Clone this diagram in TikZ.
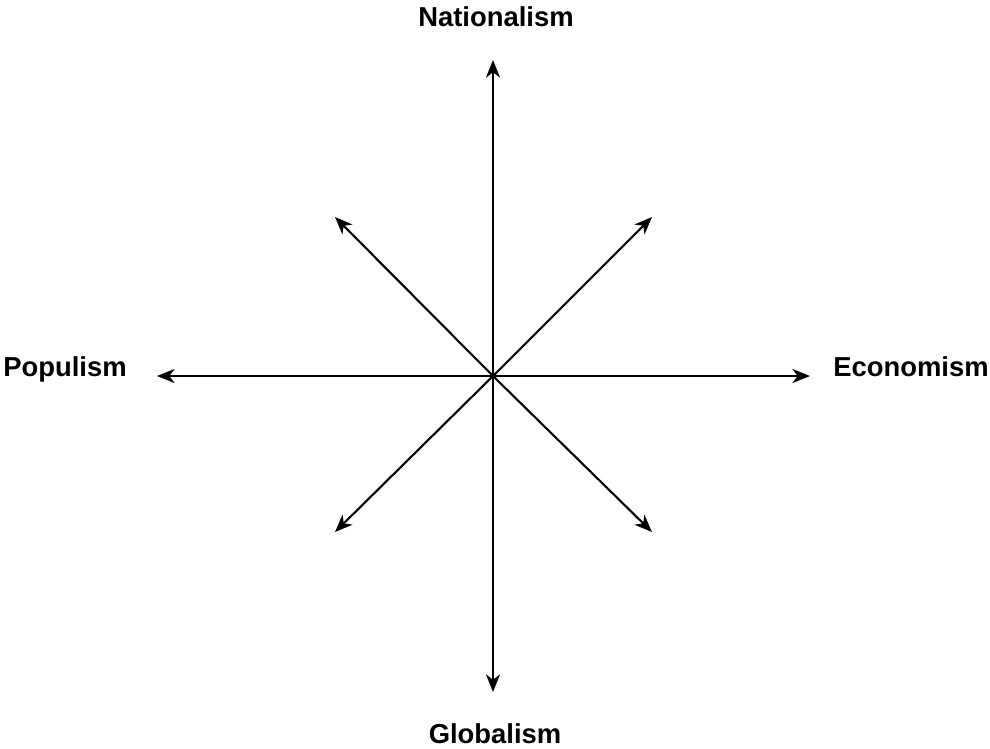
\documentclass[tikz,border=0pt]{standalone}
\usepackage{fontspec}
\setmainfont{Liberation Sans}
\usetikzlibrary{arrows.meta}
\begin{document}
\begin{tikzpicture}[x=0.02cm,y=-0.02cm,
  axis/.style={line width=1.2pt,-{Stealth[length=10pt,width=8pt,inset=3pt]}},
  pole/.style={anchor=base,font=\fontsize{15.6}{18}\selectfont\bfseries}]
  \useasboundingbox (0,0) rectangle (990,748);
  \coordinate (o) at (493,376);
  % axis ends
  \coordinate (n) at (493,60);
  \coordinate (s) at (493,692);
  \coordinate (w) at (157,376);
  \coordinate (e) at (810,376);
  \coordinate (ne) at (652,217);
  \coordinate (nw) at (335,217);
  \coordinate (sw) at (335,532);
  \coordinate (se) at (652,532);
  \foreach \t in {n,s,w,e,ne,nw,sw,se}
    \draw[axis] (o) -- (\t);
  % labels
  \node[pole] (nat) at (496,26) {Nationalism};
  \node[pole] (glo) at (495,743) {Globalism};
  \node[pole] (pop) at (65,376) {Populism};
  \node[pole] (eco) at (911,376) {Economism};
\end{tikzpicture}
\end{document}
